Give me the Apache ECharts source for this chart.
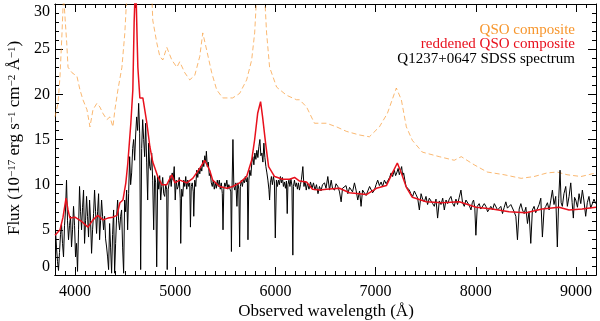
<!DOCTYPE html>
<html>
<head>
<meta charset="utf-8">
<script src="https://cdn.jsdelivr.net/npm/echarts@6/dist/echarts.min.js"></script>
<style>
html,body{margin:0;padding:0;background:#fff;}
#chart{width:600px;height:321px;}
</style>
</head>
<body>
<div id="chart"></div>
<script>
// ---------- data ----------
const qsoWave = [3800,3830,3850,3870,3885,3900,3917,3930,3969,4019,4049,4079,4119,4149,4179,4218,4248,4278,4318,4348,4378,4398,4428,4468,4497,4517,4560,4600,4650,4720,4766,4776,4816,4846,4876,4916,4966,5016,5045,5095,5145,5195,5245,5275,5314,5364,5414,5474,5573,5643,5713,5763,5793,5813,5855,5892,5912,5942,6012,6111,6211,6241,6311,6390,6510,6610,6709,6839,6938,7038,7118,7207,7257,7307,7367,7467,7636,7785,7855,7984,8114,8283,8453,8582,8712,8811,8911,9050,9200];
const qsoFlux = [17.5,19,22,26.8,31,31,25.7,23,22.4,22,20.5,19.4,18.3,16.4,18.3,19,18.6,17.9,17.2,17.5,16.4,18.3,20.5,23,26.8,31,42,60,45,34,31,28.2,25.7,24.2,23.8,25.2,23.8,23,23.6,22.4,21.6,22.1,24.2,26.8,24.9,22.4,20.5,19.6,19.6,20.1,21.6,23.8,26.8,31,45,31,26.8,23,20.8,19.9,19.4,19.4,18.6,16.8,16.8,16.4,15.9,15.5,15.3,16.4,17.9,20.7,19.4,16.4,14.9,13.6,13.1,12.7,13.1,12.2,11.4,11.1,10.7,10.9,11.3,11.4,11.1,10.9,11.3];

const redWave = [3800,3850,3880,3910,3930,3949,3999,4069,4129,4179,4228,4278,4328,4378,4418,4448,4478,4507,4527,4557,4577,4590,4605,4620,4627,4647,4677,4717,4747,4776,4826,4866,4916,4966,4996,5045,5115,5175,5245,5294,5344,5374,5444,5514,5573,5643,5713,5763,5793,5823,5852,5872,5902,5932,5992,6072,6141,6191,6241,6311,6370,6440,6510,6639,6739,6908,7008,7108,7168,7217,7257,7307,7367,7506,7666,7835,8004,8164,8333,8503,8662,8831,8931,9061,9200];
const redFlux = [4.4,5.0,6.4,8.5,7.2,6.3,6.4,5.9,5.3,6.1,6.6,6.1,6.3,6.4,6.6,8.0,8.3,10.2,12.4,16.8,20.5,28,33,26,23,19.6,19.6,16.8,14.2,12.5,10.9,10.0,10.0,11.1,10.2,10.5,10.2,10.7,11.8,12.7,11.6,10.5,9.8,9.6,9.8,10.2,10.9,12.7,15.0,17.9,19.2,17.5,14.6,12.0,10.9,10.6,10.6,10.8,10.4,10.3,9.5,9.4,9.5,9.6,9.1,8.9,9.6,9.9,11.3,12.4,11.3,9.7,8.6,8.1,8.0,8.1,7.5,7.3,7.0,6.9,7.3,7.5,7.2,7.3,7.5];

const specWave = [
3805,3815,3825,3835,3845,3855,3865,3875,3885,3895,
3905,3915,3925,3935,3945,3955,3965,3975,3985,3995,
4005,4015,4025,4035,4045,4055,4065,4075,4085,4095,
4105,4115,4125,4135,4145,4155,4165,4175,4185,4195,
4205,4215,4225,4235,4245,4255,4265,4275,4285,4295,
4305,4315,4325,4335,4345,4355,4365,4375,4385,4395,
4405,4415,4425,4435,4445,4455,4465,4475,4485,4495,
4505,4515,4525,4535,4545,4555,
4565,4575,4585,4595,4605,4615,4625,4635,4645,4655,
4665,4675,4685,4695,4705,4715,4725,4735,4745,4755,
4765,4775,4785,4795,4805,
4815,4825,4835,4845,4855,4865,4875,4885,4895,4905,
4915,4920,4930,4940,4950,4960,4970,4980,4990,5000,
5010,5020,5030,5040,5050,5055,5065,5075,5085,5095,
5105,5115,5125,5135,5145,5152,5160,5170,5180,5185,
5195,5205,5215,5225,5235,5245,5255,5265,5275,5285,
5295,5305,5311,5320,5330,5340,5350,5360,5370,5380,
5390,5400,5410,5420,5430,5440,5450,5460,5470,5477,
5485,5495,5505,5515,5525,5535,5545,5555,5561,5567,
5576,5585,5595,5605,5616,5625,5635,5643,5650,5660,
5670,5680,5690,5700,5710,5720,5726,5735,5745,5755,
5765,5775,5785,5795,5805,5815,5825,5835,5845,5855,
5865,5875,5885,5895,5905,5915,5925,5935,5942,5950,
5960,5970,5980,5990,5999,6010,6020,6030,6040,6050,
6060,6070,6080,6090,6100,6110,6118,6125,6135,6145,
6155,6165,6174,6180,6190,6200,6210,6220,6230,6240,
6250,6260,6274,6285,6295,6308,
6320,6335,6350,6365,6380,6395,6410,6425,6440,6455,
6470,6490,6505,6523,6540,6557,6570,6590,6605,6623,
6640,6656,6670,6689,6705,6723,6740,6756,6770,6789,
6805,6822,6840,6855,6870,6889,6905,6922,6940,6955,
6970,6988,7005,7021,7038,7055,7070,7088,7105,7121,
7140,7155,7170,7187,7200,7214,7225,7237,7250,7260,
7270,7280,7292,7304,7320,7337,7352,7370,7387,7404,
7420,7437,7454,7470,7486,7503,7519,7536,7553,7570,
7586,7603,7619,7636,7653,7670,7686,7703,7719,7736,
7752,7770,7785,7802,7818,7835,7852,7868,7885,7902,
7918,7935,7952,7965,7978,7990,8001,8015,8034,8050,
8067,8085,8101,8118,8134,8150,8167,8185,8201,8218,
8234,8250,8267,8284,8300,8316,8333,8350,8366,8383,
8400,8416,8433,8450,8466,8483,8500,8516,8532,8549,
8565,8582,8598,8615,8632,8649,8665,8682,8699,8715,
8732,8748,8765,8781,8798,8814,8828,8841,8852,8864,
8880,8898,8914,8931,8948,8962,8974,8986,8998,9015,
9031,9048,9064,9080,9097,9113,9130,9147,9163,9180,
9197];
const specFlux = [
5.0,3.0,1.5,0.5,2.5,4.5,5.7,3.5,2.0,5.5,
7.2,10.5,6.0,3.9,5.5,6.5,3.1,5.0,7.6,5.5,
2.0,3.5,0.4,5.0,9.8,7.0,5.0,7.5,9.4,3.5,
6.0,8.7,6.5,4.2,8.3,6.0,2.4,5.0,6.8,9.4,
7.0,4.6,7.0,9.0,3.9,6.0,8.3,6.5,5.0,6.5,
4.0,3.1,2.0,0.6,5.7,3.0,0.2,4.5,7.2,0.2,
3.5,6.5,8.3,6.0,5.0,6.5,7.2,3.0,0.2,8.3,
7.0,9.4,5.0,9.0,13.1,10.0,
11.3,14.0,15.0,12.7,15.5,17.5,16.0,19.0,15.7,0.6,
14.0,17.2,15.0,13.1,16.8,12.5,8.3,14.6,12.0,11.6,
13.5,10.5,5.0,11.0,10.2,
0.9,10.9,9.5,11.0,8.3,9.8,10.8,9.0,8.7,10.0,
9.5,0.6,9.5,10.2,11.0,9.8,11.3,10.5,12.0,8.3,
10.5,9.5,9.8,10.8,8.5,3.5,9.5,8.7,10.5,9.8,
10.9,9.5,10.5,9.8,10.2,5.3,9.8,10.2,9.2,6.5,
10.5,9.8,11.6,10.8,11.8,11.2,12.0,11.5,12.7,12.0,
13.2,12.5,13.7,12.0,12.5,11.0,11.3,10.2,9.8,10.5,
9.5,10.2,9.6,10.5,9.8,10.5,9.5,10.2,9.0,5.0,
9.5,10.2,9.8,10.5,9.5,10.0,9.8,9.2,2.6,9.5,
15.0,9.8,9.4,10.2,7.6,10.2,9.5,3.1,9.8,10.5,
9.8,10.5,10.2,10.9,10.3,10.8,3.9,10.5,11.6,11.0,
12.5,13.1,12.2,13.5,12.8,13.8,13.0,14.2,15.0,13.2,
13.5,12.5,14.6,13.0,12.0,11.3,10.5,9.5,8.3,10.2,
10.9,10.0,10.9,10.3,4.1,10.5,9.8,10.5,10.0,10.9,
10.2,10.8,9.8,10.3,9.6,10.4,6.8,10.0,10.5,9.8,
10.6,9.9,2.2,9.8,10.5,9.8,10.2,9.5,10.2,9.4,
10.0,10.6,12.0,9.8,10.4,9.4,
10.2,9.5,10.3,9.6,10.2,9.4,10.0,9.0,9.8,9.3,
10.0,10.2,9.6,10.9,9.4,10.5,9.6,9.4,10.1,9.8,
9.2,8.1,9.6,9.4,9.9,9.0,9.7,9.8,9.2,10.2,
9.4,8.3,9.3,7.6,9.4,9.4,8.8,9.0,9.8,9.6,
9.1,9.4,10.0,10.5,9.9,10.3,9.8,10.5,10.1,10.0,
10.8,11.3,10.9,11.6,11.0,11.4,11.8,11.1,11.6,12.0,
11.0,11.3,10.5,9.8,9.9,9.4,9.0,8.7,9.3,8.9,
8.5,7.2,9.0,8.4,8.1,8.7,7.8,8.5,8.3,7.9,
7.6,8.4,6.3,8.2,7.8,8.5,7.2,8.3,7.9,8.4,
8.7,7.9,7.6,8.4,7.8,8.6,9.4,8.0,7.6,8.3,
8.5,7.7,7.2,8.0,8.3,7.5,4.4,7.6,7.9,7.3,
7.2,7.9,7.6,7.0,6.8,7.6,7.2,7.9,7.8,7.2,
7.0,7.6,6.8,7.5,8.1,7.4,7.2,7.8,7.6,7.0,
6.5,3.9,7.3,7.9,7.2,6.8,7.5,5.7,7.0,3.5,
7.2,7.6,6.9,7.0,7.8,8.5,4.2,7.3,7.6,8.0,
7.2,8.2,9.4,7.8,8.7,3.1,8.5,11.6,8.0,7.6,
9.0,9.8,7.6,8.7,10.2,8.0,6.3,8.6,8.3,7.5,
9.0,7.9,9.4,8.2,6.5,8.0,8.7,7.4,7.6,8.4,
7.9];

const xMajorTicks = [4000,5000,6000,7000,8000,9000];
const xMinorStep = 100;
const xRange = [3800, 9200];
const yRange = [0, 30];
const yInterval = 5;

const legendLabels = ['QSO composite', 'reddened QSO composite', 'Q1237+0647 SDSS spectrum'];
const legendColors = ['#f7962d', '#e8101c', '#000000'];

// ---------- build ----------
const zip = (a, b) => a.slice(0, Math.min(a.length, b.length)).map((v, i) => [v, b[i]]);
const xMinorTicks = [];
for (let v = xRange[0]; v <= xRange[1]; v += xMinorStep) xMinorTicks.push(v);

const FONT = 'Liberation Serif';
const chart = echarts.init(document.getElementById('chart'), null, {renderer: 'canvas'});

function xAx(pos, ticks, len, labels) {
  return {
    type: 'value', position: pos, min: xRange[0], max: xRange[1],
    axisLine: {show: true, onZero: false, lineStyle: {color: '#000', width: 1}},
    axisTick: {show: true, inside: true, length: len, customValues: ticks, lineStyle: {color: '#000', width: 1}},
    axisLabel: labels ? {show: true, customValues: xMajorTicks, formatter: v => String(v),
      fontFamily: FONT, fontSize: 16, color: '#000', margin: 9} : {show: false},
    splitLine: {show: false}
  };
}
function yAx(pos, labels) {
  return {
    type: 'value', position: pos, min: yRange[0], max: yRange[1], interval: yInterval,
    axisLine: {show: true, onZero: false, lineStyle: {color: '#000', width: 1}},
    axisTick: {show: true, inside: true, length: 8, lineStyle: {color: '#000', width: 1}},
    minorTick: {show: true, splitNumber: 5, length: 4, lineStyle: {color: '#000', width: 1}},
    axisLabel: labels ? {show: true, fontFamily: FONT, fontSize: 16, color: '#000', margin: 5,
      verticalAlignMaxLabel: 'top', verticalAlignMinLabel: 'bottom'} : {show: false},
    splitLine: {show: false}
  };
}

const option = {
  animation: false,
  backgroundColor: '#fff',
  grid: {left: 55, right: 4, top: 4, bottom: 46, containLabel: false},
  xAxis: [
    xAx('bottom', xMajorTicks, 8, true),
    xAx('bottom', xMinorTicks, 4, false),
    xAx('top', xMajorTicks, 8, false),
    xAx('top', xMinorTicks, 4, false)
  ],
  yAxis: [yAx('left', true), yAx('right', false)],
  series: [
    {type: 'line', name: legendLabels[0], data: zip(qsoWave, qsoFlux), showSymbol: false, clip: true, z: 1,
      lineStyle: {color: legendColors[0], width: 0.8, opacity: 0.85, type: [5, 3]}},
    {type: 'line', name: legendLabels[2], data: zip(specWave, specFlux), showSymbol: false, clip: true, z: 2,
      sampling: null, lineStyle: {color: legendColors[2], width: 1}},
    {type: 'line', name: legendLabels[1], data: zip(redWave, redFlux), showSymbol: false, clip: true, z: 3,
      lineStyle: {color: legendColors[1], width: 1.5}}
  ],
  graphic: [
    {type: 'text', x: 326, y: 312, style: {text: 'Observed wavelength (Å)', fontFamily: FONT, fontSize: 17, fill: '#000', align: 'center', verticalAlign: 'middle'}},
    {type: 'text', x: 15, y: 138, rotation: Math.PI / 2,
      style: {
        text: 'Flux (10{s|−17} erg s{s|−1} cm{s|−2} Å{s|−1})',
        fontFamily: FONT, fontSize: 17, fill: '#000', align: 'center', verticalAlign: 'middle',
        rich: {s: {fontFamily: FONT, fontSize: 11, fill: '#000', verticalAlign: 'top'}}
      }},
    {type: 'text', x: 575, y: 30, style: {text: legendLabels[0], fontFamily: FONT, fontSize: 15, fill: legendColors[0], align: 'right', verticalAlign: 'middle'}},
    {type: 'text', x: 575, y: 44.5, style: {text: legendLabels[1], fontFamily: FONT, fontSize: 15, fill: legendColors[1], align: 'right', verticalAlign: 'middle'}},
    {type: 'text', x: 575, y: 59.5, style: {text: legendLabels[2], fontFamily: FONT, fontSize: 15, fill: legendColors[2], align: 'right', verticalAlign: 'middle'}}
  ]
};
if (specWave.length !== specFlux.length) console.error('spec length mismatch', specWave.length, specFlux.length);
chart.setOption(option);
</script>
</body>
</html>
